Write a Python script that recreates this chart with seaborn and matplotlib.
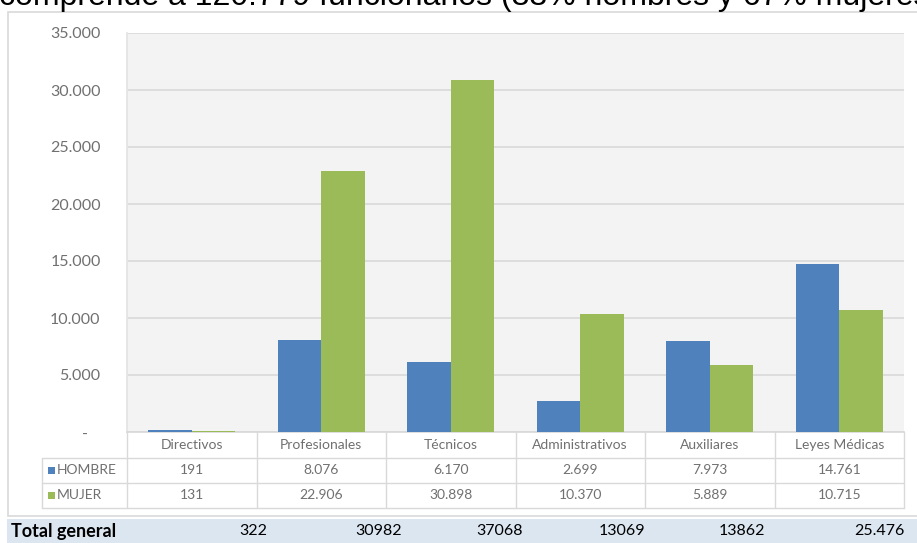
import numpy as np
import pandas as pd
import matplotlib
matplotlib.use('Agg')
import matplotlib.pyplot as plt
import matplotlib.transforms as mtransforms
from matplotlib.lines import Line2D
from matplotlib.patches import Rectangle
import seaborn as sns

# data
categorias = ['Directivos', 'Profesionales', 'Técnicos', 'Administrativos', 'Auxiliares', 'Leyes Médicas']
hombre = [191, 8076, 6170, 2699, 7973, 14761]
mujer = [131, 22906, 30898, 10370, 5889, 10715]
total_labels = ['322', '30982', '37068', '13069', '13862', '25.476']
series = ['HOMBRE', 'MUJER']
colores = ['#4f81bd', '#9bbb59']
titulo = 'comprende a 120.779 funcionarios (33% hombres y 67% mujeres)'

sns.set_theme(style='white')
plt.rcParams['font.family'] = ['Lato', 'DejaVu Sans']
plt.rcParams['hatch.color'] = '#dedede'
plt.rcParams['hatch.linewidth'] = 0.5

W, H = 917, 543
def fx(x):
    return x / W
def fy(y):
    return 1 - y / H

gris = '#d9d9d9'
texto = '#707070'

df = pd.DataFrame({
    'categoria': categorias * 2,
    'serie': [series[0]] * len(categorias) + [series[1]] * len(categorias),
    'valor': hombre + mujer,
})

fig = plt.figure(figsize=(W / 100, H / 100), dpi=100)

# chart frame and the blue total strip
fig.patches.append(Rectangle((fx(8), fy(516)), fx(920) - fx(8), fy(12) - fy(516),
                             transform=fig.transFigure, facecolor='white',
                             edgecolor=gris, lw=1.2, zorder=-2))
fig.patches.append(Rectangle((fx(7), fy(543)), fx(917) - fx(7), fy(519) - fy(543),
                             transform=fig.transFigure, facecolor='#dce6f1',
                             edgecolor='none', zorder=-2))

ax = fig.add_axes([fx(127), fy(432), fx(904) - fx(127), fy(33) - fy(432)])
ax.patch.set_facecolor('#f3f3f3')
ax.patch.set_hatch('......')

sns.barplot(data=df, x='categoria', y='valor', hue='serie', hue_order=series,
            palette=colores, width=0.67, gap=0, saturation=1, linewidth=0,
            legend=False, ax=ax, zorder=3)

ax.set_xlim(-0.5, len(categorias) - 0.5)
ax.set_ylim(0, 35000)
ax.set_yticks(np.arange(0, 35001, 5000))
ax.set_yticklabels(['-   '] + [f'{v:,}'.replace(',', '.') for v in range(5000, 35001, 5000)])
ax.tick_params(axis='y', length=0, pad=19, labelsize=11.5, labelcolor=texto)
ax.set_xticks([])
ax.set_xlabel('')
ax.set_ylabel('')
ax.yaxis.grid(True, color=gris, lw=1.2)
ax.set_axisbelow(True)
for s in ['top', 'right']:
    ax.spines[s].set_visible(False)
ax.spines['left'].set_color('#e4e4e4')
ax.spines['bottom'].set_color(gris)

# data table under the axis
tr = mtransforms.blended_transform_factory(ax.transData, fig.transFigure)
n = len(categorias)
for i in range(n + 1):
    fig.add_artist(Line2D([i - 0.5, i - 0.5], [fy(432), fy(508)], transform=tr, color=gris, lw=1))
fig.add_artist(Line2D([fx(42), fx(42)], [fy(458), fy(508)], transform=fig.transFigure, color=gris, lw=1))
for y in [458, 483, 508]:
    fig.add_artist(Line2D([fx(42), fx(904)], [fy(y), fy(y)], transform=fig.transFigure, color=gris, lw=1))

for i, c in enumerate(categorias):
    fig.text(i, fy(445), c, transform=tr, ha='center', va='center', fontsize=10, color=texto)
    fig.text(i, fy(470), f'{hombre[i]:,}'.replace(',', '.'), transform=tr,
             ha='center', va='center', fontsize=10, color=texto)
    fig.text(i, fy(495), f'{mujer[i]:,}'.replace(',', '.'), transform=tr,
             ha='center', va='center', fontsize=10, color=texto)

for row_y, name, col in zip([470, 495], series, colores):
    fig.patches.append(Rectangle((fx(48), fy(row_y + 3.5)), fx(7), fy(0) - fy(7),
                                 transform=fig.transFigure, facecolor=col, edgecolor='none'))
    fig.text(fx(57), fy(row_y), name, ha='left', va='center', fontsize=10, color=texto)

# total row
fig.text(fx(11), fy(531), 'Total general', ha='left', va='center', fontsize=13,
         fontweight='bold', color='black')
for xr, lab in zip([267, 402, 523, 645, 765, 905], total_labels):
    fig.text(fx(xr), fy(531), lab, ha='right', va='center', fontsize=11.5, color='black')

# title line, cut at the top of the image
fig.text(fx(-1), fy(5), titulo, ha='left', va='baseline', fontsize=23,
         family=['Liberation Sans', 'DejaVu Sans'], color='black')

fig.savefig('out.png', dpi=100)
